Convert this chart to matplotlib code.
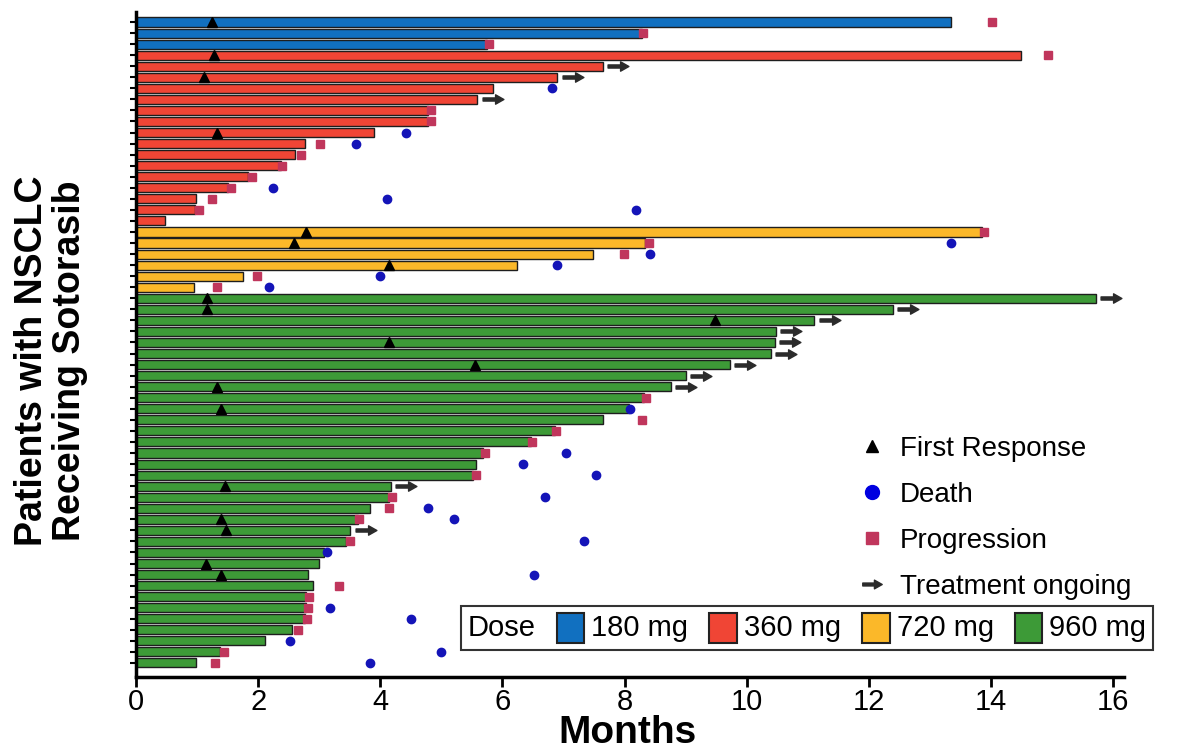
import numpy as np
import matplotlib
matplotlib.use("Agg")
from matplotlib import pyplot as plt
from matplotlib.path import Path
from matplotlib.lines import Line2D
from matplotlib.patches import Rectangle
from matplotlib.offsetbox import AnchoredOffsetbox, HPacker, TextArea, DrawingArea

plt.rcParams['font.family'] = ['Liberation Sans', 'DejaVu Sans']

nan = np.nan

# dose groups, top to bottom
dose_labels = ["180 mg", "360 mg", "720 mg", "960 mg"]
dose_colors = ["#1170c0", "#f04535", "#fbb829", "#3d9a37"]
dose_counts = [3, 16, 6, 34]

# months on treatment per patient (top -> bottom)
months = [13.35, 8.28, 5.74,
          14.50, 7.65, 6.90, 5.84, 5.59, 4.79, 4.79, 3.89, 2.77, 2.61, 2.37, 1.84, 1.50, 0.98, 0.96, 0.48,
          13.85, 8.34, 7.48, 6.24, 1.75, 0.95,
          15.72, 12.39, 11.11, 10.48, 10.46, 10.40, 9.72, 9.01, 8.76, 8.32, 8.07, 7.65, 6.86, 6.47, 5.68, 5.57, 5.52,
          4.17, 4.14, 3.84, 3.63, 3.51, 3.44, 3.08, 3.00, 2.81, 2.90, 2.78, 2.78, 2.76, 2.56, 2.12, 1.37, 0.98]

first_resp = [1.25, nan, nan,
              1.28, nan, 1.12, nan, nan, nan, nan, 1.33, nan, nan, nan, nan, nan, nan, nan, nan,
              2.79, 2.58, nan, 4.15, nan, nan,
              1.17, 1.17, 9.48, nan, 4.15, nan, 5.55, nan, 1.32, nan, 1.39, nan, nan, nan, nan, nan, nan,
              1.45, nan, nan, 1.40, 1.48, nan, nan, 1.14, 1.40, nan, nan, nan, nan, nan, nan, nan, nan]

death = [nan, nan, nan,
         nan, nan, nan, 6.82, nan, nan, nan, 4.42, 3.60, nan, nan, nan, 2.24, 4.11, 8.19, nan,
         nan, 13.34, 8.41, 6.89, 3.99, 2.17,
         nan, nan, nan, nan, nan, nan, nan, nan, nan, nan, 8.09, nan, nan, nan, 7.05, 6.34, 7.54,
         nan, 6.70, 4.79, 5.20, nan, 7.34, 3.12, nan, 6.51, nan, nan, 3.18, 4.51, nan, 2.53, 5.00, 3.83]

progression = [14.02, 8.30, 5.78,
               14.93, nan, nan, nan, nan, 4.83, 4.83, nan, 3.01, 2.70, 2.39, 1.90, 1.55, 1.24, 1.03, nan,
               13.88, 8.40, 7.99, nan, 1.98, 1.32,
               nan, nan, nan, nan, nan, nan, nan, nan, nan, 8.36, nan, 8.28, 6.87, 6.48, 5.71, nan, 5.57,
               nan, 4.19, 4.15, 3.66, nan, 3.50, nan, nan, nan, 3.33, 2.83, 2.81, 2.80, 2.66, nan, 1.44, 1.30]

ongoing = [0, 0, 0,
           0, 1, 1, 0, 1, 0, 0, 0, 0, 0, 0, 0, 0, 0, 0, 0,
           0, 0, 0, 0, 0, 0,
           1, 1, 1, 1, 1, 1, 1, 1, 1, 0, 0, 0, 0, 0, 0, 0, 0,
           1, 0, 0, 0, 1, 0, 0, 0, 0, 0, 0, 0, 0, 0, 0, 0, 0]

c_prog = "#c0365c"
c_death = "#1414b8"
c_arrow = "#2b2b2b"

# arrow shaped marker
arrow = Path([(-1, -0.15), (0.2, -0.15), (0.2, -0.45), (1, 0), (0.2, 0.45), (0.2, 0.15), (-1, 0.15), (-1, -0.15)],
             [Path.MOVETO] + [Path.LINETO] * 6 + [Path.CLOSEPOLY])

months = np.array(months)
y = np.arange(len(months))
bar_colors = np.repeat(dose_colors, dose_counts)
ong = np.array(ongoing, bool)

fig = plt.figure(figsize=(11.86, 7.51), dpi=100)
ax = fig.add_axes([136/1186, 74/751, 988/1186, 665/751])

ax.barh(y, months, height=0.82, color=bar_colors, edgecolor="#1e1e1e", linewidth=1.0, zorder=2)
ax.plot(first_resp, y, ls="none", marker="^", color="black", ms=6.5, zorder=4)
ax.plot(death, y, ls="none", marker="o", color=c_death, ms=6, zorder=4)
ax.plot(progression, y, ls="none", marker="s", color=c_prog, ms=6, zorder=3)
ax.plot(months[ong] + 0.25, y[ong], ls="none", marker=arrow, color=c_arrow, ms=15, zorder=4)

ax.set_xlim(0, 16.18)
ax.set_ylim(58 + 1.27, -0.905)
ax.set_xticks(np.arange(0, 17, 2))
ax.set_yticks(y)
ax.set_yticklabels([])
ax.tick_params(axis="x", length=7, width=2, labelsize=21, pad=1)
ax.tick_params(axis="y", length=4, width=1.5)
for s in ["top", "right"]:
    ax.spines[s].set_visible(False)
for s in ["left", "bottom"]:
    ax.spines[s].set_linewidth(2.5)

fig.text(627/1186, 1 - 733/751, "Months", ha="center", va="center", fontsize=28, fontweight="bold")
fig.text(51/1186, 0.52, "Patients with NSCLC\nReceiving Sotorasib", rotation=90,
         ha="center", va="center", fontsize=27, fontweight="bold", linespacing=1.05)

# event legend
handles = [Line2D([], [], ls="none", marker="^", color="black", ms=9),
           Line2D([], [], ls="none", marker="o", color="#0000e0", ms=10),
           Line2D([], [], ls="none", marker="s", color=c_prog, ms=8),
           Line2D([], [], ls="none", marker=arrow, color=c_arrow, ms=14)]
labels = ["First Response", "Death", "Progression", "Treatment ongoing"]
ax.legend(handles, labels, loc="upper left", bbox_to_anchor=(858/1186, 1 - 436/751),
          bbox_transform=fig.transFigure, frameon=False, fontsize=20, handlelength=1.0,
          handletextpad=0.5, labelspacing=0.72, borderpad=0, borderaxespad=0)

# dose legend
items = [TextArea("Dose", textprops=dict(size=21))]
for lab, col in zip(dose_labels, dose_colors):
    da = DrawingArea(20, 22, 0, 0)
    da.add_artist(Rectangle((0, 0), 20, 22, facecolor=col, edgecolor="#222222", linewidth=1.5))
    items.append(HPacker(children=[da, TextArea(lab, textprops=dict(size=21))], sep=5, pad=0, align="center"))
box = HPacker(children=items, sep=15, pad=0, align="center")
anch = AnchoredOffsetbox(loc="center", child=box, pad=0.5, frameon=True,
                         bbox_to_anchor=(807/1186, 1 - 628/751), bbox_transform=fig.transFigure, borderpad=0)
anch.patch.set_edgecolor("#333333")
anch.patch.set_linewidth(1.5)
anch.patch.set_boxstyle("square,pad=0")
ax.add_artist(anch)

fig.savefig("out.png", dpi=100)
